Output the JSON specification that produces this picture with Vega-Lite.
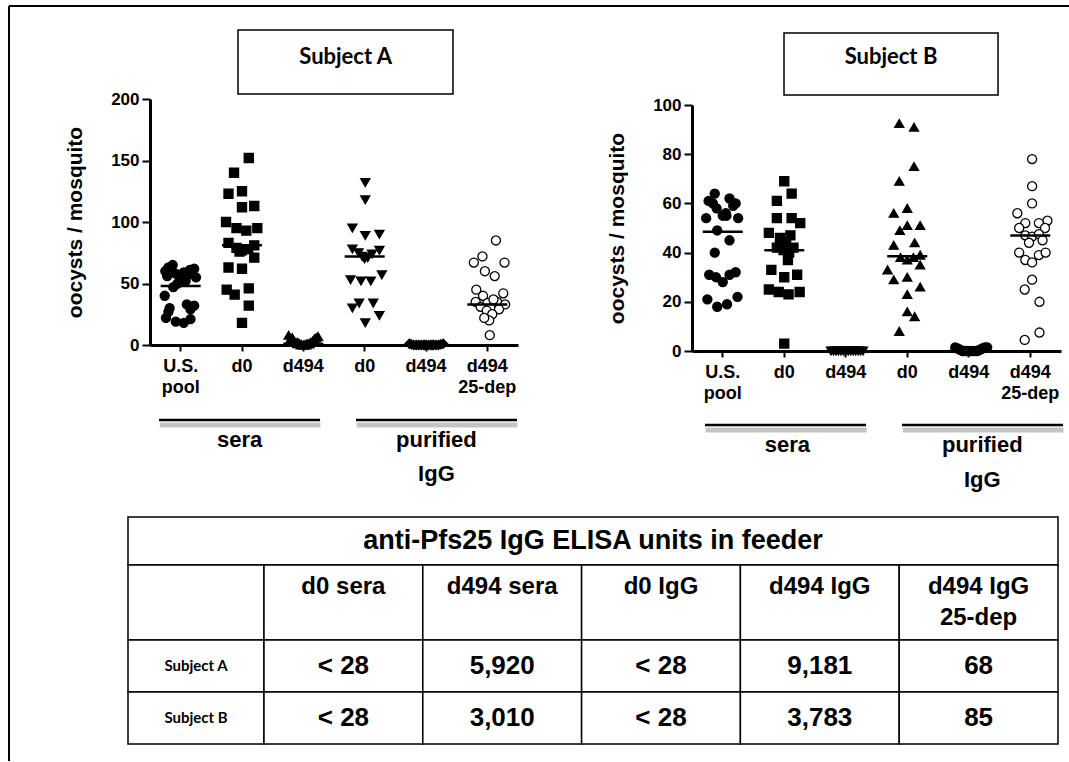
{
 "$schema": "https://vega.github.io/schema/vega-lite/v6.json",
 "background": "white",
 "padding": {"left": 7, "top": 5, "right": 0, "bottom": 0},
 "width": 930,
 "height": 252,
 "config": {
  "view": {"stroke": null},
  "font": "Liberation Sans",
  "axis": {"labelColor": "black", "titleColor": "black", "domainColor": "black", "tickColor": "black", "grid": false}
 },
 "datasets": {
  "A": [
   {"group":"U.S. pool","oocysts":65,"jitter":-0.13},{"group":"U.S. pool","oocysts":63,"jitter":-0.2},{"group":"U.S. pool","oocysts":61,"jitter":0.15},{"group":"U.S. pool","oocysts":62,"jitter":0.22},{"group":"U.S. pool","oocysts":60,"jitter":-0.25},{"group":"U.S. pool","oocysts":59,"jitter":0.05},{"group":"U.S. pool","oocysts":58,"jitter":-0.08},{"group":"U.S. pool","oocysts":57,"jitter":0.12},{"group":"U.S. pool","oocysts":56,"jitter":-0.22},{"group":"U.S. pool","oocysts":55,"jitter":0.25},{"group":"U.S. pool","oocysts":54,"jitter":0.0},{"group":"U.S. pool","oocysts":52,"jitter":0.08},{"group":"U.S. pool","oocysts":50,"jitter":-0.05},{"group":"U.S. pool","oocysts":47,"jitter":-0.12},{"group":"U.S. pool","oocysts":40,"jitter":-0.26},{"group":"U.S. pool","oocysts":33,"jitter":0.1},{"group":"U.S. pool","oocysts":32,"jitter":0.22},{"group":"U.S. pool","oocysts":30,"jitter":-0.18},{"group":"U.S. pool","oocysts":29,"jitter":0.16},{"group":"U.S. pool","oocysts":27,"jitter":-0.2},{"group":"U.S. pool","oocysts":22,"jitter":-0.24},{"group":"U.S. pool","oocysts":21,"jitter":0.16},{"group":"U.S. pool","oocysts":19,"jitter":-0.08},{"group":"U.S. pool","oocysts":18,"jitter":0.05},
   {"group":"sera d0","oocysts":152,"jitter":0.11},{"group":"sera d0","oocysts":140,"jitter":-0.13},{"group":"sera d0","oocysts":123,"jitter":-0.22},{"group":"sera d0","oocysts":125,"jitter":0.0},{"group":"sera d0","oocysts":112,"jitter":0.0},{"group":"sera d0","oocysts":113,"jitter":0.2},{"group":"sera d0","oocysts":100,"jitter":-0.26},{"group":"sera d0","oocysts":95,"jitter":-0.09},{"group":"sera d0","oocysts":93,"jitter":0.07},{"group":"sera d0","oocysts":95,"jitter":0.25},{"group":"sera d0","oocysts":83,"jitter":-0.22},{"group":"sera d0","oocysts":79,"jitter":-0.09},{"group":"sera d0","oocysts":77,"jitter":0.0},{"group":"sera d0","oocysts":78,"jitter":0.1},{"group":"sera d0","oocysts":81,"jitter":0.2},{"group":"sera d0","oocysts":76,"jitter":-0.04},{"group":"sera d0","oocysts":71,"jitter":0.2},{"group":"sera d0","oocysts":63,"jitter":-0.22},{"group":"sera d0","oocysts":62,"jitter":0.0},{"group":"sera d0","oocysts":45,"jitter":-0.25},{"group":"sera d0","oocysts":41,"jitter":-0.12},{"group":"sera d0","oocysts":46,"jitter":0.11},{"group":"sera d0","oocysts":32,"jitter":0.11},{"group":"sera d0","oocysts":18,"jitter":0.0},
   {"group":"sera d494","oocysts":8,"jitter":-0.24},{"group":"sera d494","oocysts":5,"jitter":-0.21},{"group":"sera d494","oocysts":6,"jitter":-0.18},{"group":"sera d494","oocysts":3,"jitter":-0.15},{"group":"sera d494","oocysts":2,"jitter":-0.12},{"group":"sera d494","oocysts":2,"jitter":-0.09},{"group":"sera d494","oocysts":1,"jitter":-0.06},{"group":"sera d494","oocysts":0.5,"jitter":-0.03},{"group":"sera d494","oocysts":0,"jitter":0.0},{"group":"sera d494","oocysts":0.5,"jitter":0.03},{"group":"sera d494","oocysts":1,"jitter":0.06},{"group":"sera d494","oocysts":1,"jitter":0.09},{"group":"sera d494","oocysts":2,"jitter":0.12},{"group":"sera d494","oocysts":3,"jitter":0.15},{"group":"sera d494","oocysts":5,"jitter":0.18},{"group":"sera d494","oocysts":6,"jitter":0.21},{"group":"sera d494","oocysts":7,"jitter":0.24},{"group":"sera d494","oocysts":0,"jitter":-0.04},{"group":"sera d494","oocysts":0,"jitter":0.05},{"group":"sera d494","oocysts":1,"jitter":-0.1},{"group":"sera d494","oocysts":1,"jitter":0.1},{"group":"sera d494","oocysts":0,"jitter":0.01},
   {"group":"IgG d0","oocysts":132,"jitter":0.01},{"group":"IgG d0","oocysts":118,"jitter":0.01},{"group":"IgG d0","oocysts":95,"jitter":-0.2},{"group":"IgG d0","oocysts":89,"jitter":0.01},{"group":"IgG d0","oocysts":90,"jitter":0.24},{"group":"IgG d0","oocysts":78,"jitter":-0.2},{"group":"IgG d0","oocysts":77,"jitter":0.24},{"group":"IgG d0","oocysts":75,"jitter":-0.1},{"group":"IgG d0","oocysts":74,"jitter":0.12},{"group":"IgG d0","oocysts":72,"jitter":-0.04},{"group":"IgG d0","oocysts":71,"jitter":0.05},{"group":"IgG d0","oocysts":70,"jitter":0.0},{"group":"IgG d0","oocysts":53,"jitter":-0.23},{"group":"IgG d0","oocysts":52,"jitter":-0.06},{"group":"IgG d0","oocysts":52,"jitter":0.1},{"group":"IgG d0","oocysts":57,"jitter":0.28},{"group":"IgG d0","oocysts":34,"jitter":-0.09},{"group":"IgG d0","oocysts":34,"jitter":0.14},{"group":"IgG d0","oocysts":30,"jitter":-0.2},{"group":"IgG d0","oocysts":24,"jitter":0.24},{"group":"IgG d0","oocysts":18,"jitter":0.01},
   {"group":"IgG d494","oocysts":1,"jitter":-0.27},{"group":"IgG d494","oocysts":0.5,"jitter":-0.24},{"group":"IgG d494","oocysts":0,"jitter":-0.2},{"group":"IgG d494","oocysts":0,"jitter":-0.16},{"group":"IgG d494","oocysts":0,"jitter":-0.12},{"group":"IgG d494","oocysts":0,"jitter":-0.08},{"group":"IgG d494","oocysts":0,"jitter":-0.04},{"group":"IgG d494","oocysts":0,"jitter":0.0},{"group":"IgG d494","oocysts":0,"jitter":0.04},{"group":"IgG d494","oocysts":0,"jitter":0.08},{"group":"IgG d494","oocysts":0,"jitter":0.12},{"group":"IgG d494","oocysts":0,"jitter":0.16},{"group":"IgG d494","oocysts":0,"jitter":0.2},{"group":"IgG d494","oocysts":0.5,"jitter":0.24},{"group":"IgG d494","oocysts":1,"jitter":0.28},{"group":"IgG d494","oocysts":0,"jitter":-0.02},{"group":"IgG d494","oocysts":0,"jitter":0.1},
   {"group":"IgG d494 25-dep","oocysts":85,"jitter":0.14},{"group":"IgG d494 25-dep","oocysts":72,"jitter":-0.08},{"group":"IgG d494 25-dep","oocysts":67,"jitter":-0.22},{"group":"IgG d494 25-dep","oocysts":67,"jitter":0.28},{"group":"IgG d494 25-dep","oocysts":60,"jitter":-0.04},{"group":"IgG d494 25-dep","oocysts":56,"jitter":0.12},{"group":"IgG d494 25-dep","oocysts":45,"jitter":-0.18},{"group":"IgG d494 25-dep","oocysts":42,"jitter":0.26},{"group":"IgG d494 25-dep","oocysts":40,"jitter":-0.07},{"group":"IgG d494 25-dep","oocysts":35,"jitter":-0.19},{"group":"IgG d494 25-dep","oocysts":34,"jitter":0.0},{"group":"IgG d494 25-dep","oocysts":35,"jitter":0.16},{"group":"IgG d494 25-dep","oocysts":33,"jitter":0.29},{"group":"IgG d494 25-dep","oocysts":31,"jitter":-0.11},{"group":"IgG d494 25-dep","oocysts":30,"jitter":0.05},{"group":"IgG d494 25-dep","oocysts":28,"jitter":-0.01},{"group":"IgG d494 25-dep","oocysts":29,"jitter":0.19},{"group":"IgG d494 25-dep","oocysts":25,"jitter":0.08},{"group":"IgG d494 25-dep","oocysts":20,"jitter":0.03},{"group":"IgG d494 25-dep","oocysts":22,"jitter":-0.05},{"group":"IgG d494 25-dep","oocysts":8,"jitter":0.04},{"group":"IgG d494 25-dep","oocysts":37,"jitter":0.1}
  ],
  "Amean": [
   {"group":"U.S. pool","mean":48},{"group":"sera d0","mean":81},{"group":"sera d494","mean":1},{"group":"IgG d0","mean":72},{"group":"IgG d494","mean":0},{"group":"IgG d494 25-dep","mean":33}
  ],
  "B": [
   {"group":"U.S. pool","oocysts":64,"jitter":-0.13},{"group":"U.S. pool","oocysts":61,"jitter":-0.23},{"group":"U.S. pool","oocysts":60,"jitter":-0.16},{"group":"U.S. pool","oocysts":62,"jitter":0.11},{"group":"U.S. pool","oocysts":60,"jitter":0.21},{"group":"U.S. pool","oocysts":59,"jitter":0.17},{"group":"U.S. pool","oocysts":58,"jitter":-0.1},{"group":"U.S. pool","oocysts":56,"jitter":0.05},{"group":"U.S. pool","oocysts":54,"jitter":-0.27},{"group":"U.S. pool","oocysts":55,"jitter":0.0},{"group":"U.S. pool","oocysts":55,"jitter":0.06},{"group":"U.S. pool","oocysts":54,"jitter":0.25},{"group":"U.S. pool","oocysts":49,"jitter":-0.09},{"group":"U.S. pool","oocysts":45,"jitter":0.11},{"group":"U.S. pool","oocysts":40,"jitter":-0.13},{"group":"U.S. pool","oocysts":31,"jitter":-0.22},{"group":"U.S. pool","oocysts":30,"jitter":-0.11},{"group":"U.S. pool","oocysts":28,"jitter":0.0},{"group":"U.S. pool","oocysts":31,"jitter":0.11},{"group":"U.S. pool","oocysts":32,"jitter":0.21},{"group":"U.S. pool","oocysts":21,"jitter":-0.25},{"group":"U.S. pool","oocysts":18,"jitter":-0.09},{"group":"U.S. pool","oocysts":19,"jitter":0.07},{"group":"U.S. pool","oocysts":22,"jitter":0.24},
   {"group":"sera d0","oocysts":69,"jitter":0.0},{"group":"sera d0","oocysts":64,"jitter":0.12},{"group":"sera d0","oocysts":61,"jitter":-0.12},{"group":"sera d0","oocysts":54,"jitter":-0.12},{"group":"sera d0","oocysts":54,"jitter":0.12},{"group":"sera d0","oocysts":52,"jitter":0.26},{"group":"sera d0","oocysts":48,"jitter":-0.25},{"group":"sera d0","oocysts":47,"jitter":0.1},{"group":"sera d0","oocysts":46,"jitter":-0.07},{"group":"sera d0","oocysts":42,"jitter":-0.12},{"group":"sera d0","oocysts":43,"jitter":0.03},{"group":"sera d0","oocysts":42,"jitter":0.15},{"group":"sera d0","oocysts":41,"jitter":-0.01},{"group":"sera d0","oocysts":40,"jitter":0.08},{"group":"sera d0","oocysts":37,"jitter":0.06},{"group":"sera d0","oocysts":33,"jitter":-0.21},{"group":"sera d0","oocysts":30,"jitter":0.0},{"group":"sera d0","oocysts":31,"jitter":0.21},{"group":"sera d0","oocysts":25,"jitter":-0.25},{"group":"sera d0","oocysts":24,"jitter":-0.09},{"group":"sera d0","oocysts":23,"jitter":0.07},{"group":"sera d0","oocysts":24,"jitter":0.25},{"group":"sera d0","oocysts":3,"jitter":0.0},{"group":"sera d0","oocysts":44,"jitter":-0.05},
   {"group":"sera d494","oocysts":0,"jitter":-0.24},{"group":"sera d494","oocysts":0,"jitter":-0.2},{"group":"sera d494","oocysts":0,"jitter":-0.16},{"group":"sera d494","oocysts":0,"jitter":-0.12},{"group":"sera d494","oocysts":0,"jitter":-0.08},{"group":"sera d494","oocysts":0,"jitter":-0.04},{"group":"sera d494","oocysts":0,"jitter":0.0},{"group":"sera d494","oocysts":0,"jitter":0.04},{"group":"sera d494","oocysts":0,"jitter":0.08},{"group":"sera d494","oocysts":0,"jitter":0.12},{"group":"sera d494","oocysts":0,"jitter":0.16},{"group":"sera d494","oocysts":0,"jitter":0.2},{"group":"sera d494","oocysts":0,"jitter":0.24},{"group":"sera d494","oocysts":0,"jitter":0.28},
   {"group":"IgG d0","oocysts":92.5,"jitter":-0.13},{"group":"IgG d0","oocysts":91,"jitter":0.11},{"group":"IgG d0","oocysts":75,"jitter":0.11},{"group":"IgG d0","oocysts":69,"jitter":-0.13},{"group":"IgG d0","oocysts":56,"jitter":-0.22},{"group":"IgG d0","oocysts":58,"jitter":0.0},{"group":"IgG d0","oocysts":49,"jitter":-0.12},{"group":"IgG d0","oocysts":51,"jitter":0.0},{"group":"IgG d0","oocysts":51,"jitter":0.21},{"group":"IgG d0","oocysts":43,"jitter":-0.22},{"group":"IgG d0","oocysts":44,"jitter":0.12},{"group":"IgG d0","oocysts":38,"jitter":-0.11},{"group":"IgG d0","oocysts":37,"jitter":0.0},{"group":"IgG d0","oocysts":38,"jitter":0.1},{"group":"IgG d0","oocysts":39,"jitter":0.21},{"group":"IgG d0","oocysts":33,"jitter":-0.32},{"group":"IgG d0","oocysts":35,"jitter":0.21},{"group":"IgG d0","oocysts":29,"jitter":-0.22},{"group":"IgG d0","oocysts":30,"jitter":0.0},{"group":"IgG d0","oocysts":26,"jitter":0.21},{"group":"IgG d0","oocysts":23,"jitter":0.0},{"group":"IgG d0","oocysts":16,"jitter":0.0},{"group":"IgG d0","oocysts":14,"jitter":0.12},{"group":"IgG d0","oocysts":8,"jitter":-0.13},
   {"group":"IgG d494","oocysts":1.5,"jitter":-0.22},{"group":"IgG d494","oocysts":1,"jitter":-0.18},{"group":"IgG d494","oocysts":0.5,"jitter":-0.14},{"group":"IgG d494","oocysts":0,"jitter":-0.1},{"group":"IgG d494","oocysts":0,"jitter":-0.06},{"group":"IgG d494","oocysts":0,"jitter":-0.02},{"group":"IgG d494","oocysts":0,"jitter":0.02},{"group":"IgG d494","oocysts":0,"jitter":0.06},{"group":"IgG d494","oocysts":0,"jitter":0.1},{"group":"IgG d494","oocysts":0,"jitter":0.14},{"group":"IgG d494","oocysts":0.5,"jitter":0.18},{"group":"IgG d494","oocysts":1,"jitter":0.22},{"group":"IgG d494","oocysts":1.5,"jitter":0.26},{"group":"IgG d494","oocysts":1.5,"jitter":0.3},
   {"group":"IgG d494 25-dep","oocysts":78,"jitter":0.03},{"group":"IgG d494 25-dep","oocysts":67,"jitter":0.03},{"group":"IgG d494 25-dep","oocysts":60,"jitter":0.03},{"group":"IgG d494 25-dep","oocysts":56,"jitter":-0.21},{"group":"IgG d494 25-dep","oocysts":52,"jitter":-0.08},{"group":"IgG d494 25-dep","oocysts":50,"jitter":-0.18},{"group":"IgG d494 25-dep","oocysts":53,"jitter":0.28},{"group":"IgG d494 25-dep","oocysts":52,"jitter":0.14},{"group":"IgG d494 25-dep","oocysts":50,"jitter":0.24},{"group":"IgG d494 25-dep","oocysts":47,"jitter":-0.08},{"group":"IgG d494 25-dep","oocysts":46.5,"jitter":0.03},{"group":"IgG d494 25-dep","oocysts":47.5,"jitter":0.14},{"group":"IgG d494 25-dep","oocysts":40,"jitter":-0.18},{"group":"IgG d494 25-dep","oocysts":37,"jitter":-0.08},{"group":"IgG d494 25-dep","oocysts":36,"jitter":0.03},{"group":"IgG d494 25-dep","oocysts":39,"jitter":0.14},{"group":"IgG d494 25-dep","oocysts":40,"jitter":0.25},{"group":"IgG d494 25-dep","oocysts":29,"jitter":0.03},{"group":"IgG d494 25-dep","oocysts":25,"jitter":-0.09},{"group":"IgG d494 25-dep","oocysts":20,"jitter":0.15},{"group":"IgG d494 25-dep","oocysts":4.5,"jitter":-0.09},{"group":"IgG d494 25-dep","oocysts":7.5,"jitter":0.15},{"group":"IgG d494 25-dep","oocysts":45,"jitter":0.2},{"group":"IgG d494 25-dep","oocysts":44,"jitter":-0.02}
  ],
  "Bmean": [
   {"group":"U.S. pool","mean":48.5},{"group":"sera d0","mean":41},{"group":"sera d494","mean":0},{"group":"IgG d0","mean":38.5},{"group":"IgG d494","mean":0},{"group":"IgG d494 25-dep","mean":47}
  ],
  "table": [
   {"row":"title","col":"c0","text":"anti-Pfs25 IgG ELISA units in feeder"},
   {"row":"head","col":"c0","text":""},{"row":"head","col":"c1","text":"d0 sera"},{"row":"head","col":"c2","text":"d494 sera"},{"row":"head","col":"c3","text":"d0 IgG"},{"row":"head","col":"c4","text":"d494 IgG"},{"row":"head","col":"c5","text":"d494 IgG\n25-dep"},
   {"row":"A","col":"c0","text":"Subject A"},{"row":"A","col":"c1","text":"< 28"},{"row":"A","col":"c2","text":"5,920"},{"row":"A","col":"c3","text":"< 28"},{"row":"A","col":"c4","text":"9,181"},{"row":"A","col":"c5","text":"68"},
   {"row":"B","col":"c0","text":"Subject B"},{"row":"B","col":"c1","text":"< 28"},{"row":"B","col":"c2","text":"3,010"},{"row":"B","col":"c3","text":"< 28"},{"row":"B","col":"c4","text":"3,783"},{"row":"B","col":"c5","text":"85"}
  ]
 },
 "layer": [
  {"data": {"name": "A"},
   "layer": [
    {"mark": {"type": "point", "filled": true, "stroke": "black", "strokeWidth": 1.3, "size": 82, "opacity": 1},
     "encoding": {
      "x": {"field": "group", "type": "nominal", "sort": null,
            "scale": {"domain": ["U.S. pool","sera d0","sera d494","IgG d0","IgG d494","IgG d494 25-dep"], "range": [22, 390], "paddingInner": 0, "paddingOuter": 0},
            "axis": {"orient": "bottom", "title": null, "offset": -6, "labelExpr": "datum.value == 'U.S. pool' ? ['U.S.', 'pool'] : datum.value == 'IgG d494 25-dep' ? ['d494', '25-dep'] : indexof(datum.value, 'd494') >= 0 ? 'd494' : 'd0'",
                     "labelFontSize": 18, "labelFontWeight": "bold", "labelLineHeight": 21, "labelPadding": 6, "labelAngle": 0, "labelOverlap": false, "labelLimit": 0,
                     "tickSize": 6, "tickWidth": 2, "domainWidth": 3}},
      "xOffset": {"field": "jitter", "type": "quantitative", "scale": {"domain": [-0.5, 0.5]}},
      "y": {"field": "oocysts", "type": "quantitative", "title": "oocysts / mosquito",
            "scale": {"domain": [0, 200], "range": [246, 0], "nice": false, "zero": false},
            "axis": {"orient": "left", "values": [0, 50, 100, 150, 200], "offset": -22, "labelFontSize": 17, "labelFontWeight": "bold", "labelPadding": 3, "tickSize": 8, "tickWidth": 2, "domainWidth": 3,
                     "titleFontSize": 21, "titleFontWeight": "bold", "titlePadding": 25}},
      "shape": {"field": "group", "type": "nominal", "legend": null,
                "scale": {"domain": ["U.S. pool","sera d0","sera d494","IgG d0","IgG d494","IgG d494 25-dep"], "range": ["circle","square","triangle-up","triangle-down","diamond","circle"]}},
      "fill": {"field": "group", "type": "nominal", "legend": null,
               "scale": {"domain": ["U.S. pool","sera d0","sera d494","IgG d0","IgG d494","IgG d494 25-dep"], "range": ["black","black","black","black","black","white"]}}
     }},
    {"data": {"name": "Amean"},
     "mark": {"type": "tick", "color": "black", "thickness": 2.5, "size": 40, "opacity": 1},
     "encoding": {
      "x": {"field": "group", "type": "nominal", "sort": null,
            "scale": {"domain": ["U.S. pool","sera d0","sera d494","IgG d0","IgG d494","IgG d494 25-dep"], "range": [22, 390], "paddingInner": 0, "paddingOuter": 0}},
      "y": {"field": "mean", "type": "quantitative", "title": "oocysts / mosquito",
            "scale": {"domain": [0, 200], "range": [246, 0], "nice": false, "zero": false}}
     }}
   ]},
  {"data": {"name": "B"},
   "layer": [
    {"mark": {"type": "point", "filled": true, "stroke": "black", "strokeWidth": 1.3, "size": 82, "opacity": 1},
     "encoding": {
      "x": {"field": "group", "type": "nominal", "sort": null,
            "scale": {"domain": ["U.S. pool","sera d0","sera d494","IgG d0","IgG d494","IgG d494 25-dep"], "range": [564, 933], "paddingInner": 0, "paddingOuter": 0},
            "axis": {"orient": "bottom", "offset": 0, "title": null, "labelExpr": "datum.value == 'U.S. pool' ? ['U.S.', 'pool'] : datum.value == 'IgG d494 25-dep' ? ['d494', '25-dep'] : indexof(datum.value, 'd494') >= 0 ? 'd494' : 'd0'",
                     "labelFontSize": 18, "labelFontWeight": "bold", "labelLineHeight": 21, "labelPadding": 6, "labelAngle": 0, "labelOverlap": false, "labelLimit": 0,
                     "tickSize": 6, "tickWidth": 2, "domainWidth": 3}},
      "xOffset": {"field": "jitter", "type": "quantitative", "scale": {"domain": [-0.5, 0.5]}},
      "y": {"field": "oocysts", "type": "quantitative", "title": "oocysts / mosquito",
            "scale": {"domain": [0, 100], "range": [252, 6], "nice": false, "zero": false},
            "axis": {"orient": "left", "values": [0, 20, 40, 60, 80, 100], "offset": -564, "labelFontSize": 17, "labelFontWeight": "bold", "labelPadding": 3, "tickSize": 8, "tickWidth": 2, "domainWidth": 3,
                     "titleFontSize": 21, "titleFontWeight": "bold", "titlePadding": 25}},
      "shape": {"field": "group", "type": "nominal", "legend": null,
                "scale": {"domain": ["U.S. pool","sera d0","sera d494","IgG d0","IgG d494","IgG d494 25-dep"], "range": ["circle","square","triangle-down","triangle-up","circle","circle"]}},
      "fill": {"field": "group", "type": "nominal", "legend": null,
               "scale": {"domain": ["U.S. pool","sera d0","sera d494","IgG d0","IgG d494","IgG d494 25-dep"], "range": ["black","black","black","black","black","white"]}}
     }},
    {"data": {"name": "Bmean"},
     "mark": {"type": "tick", "color": "black", "thickness": 2.5, "size": 40, "opacity": 1},
     "encoding": {
      "x": {"field": "group", "type": "nominal", "sort": null,
            "scale": {"domain": ["U.S. pool","sera d0","sera d494","IgG d0","IgG d494","IgG d494 25-dep"], "range": [564, 933], "paddingInner": 0, "paddingOuter": 0}},
      "y": {"field": "mean", "type": "quantitative", "title": "oocysts / mosquito",
            "scale": {"domain": [0, 100], "range": [252, 6], "nice": false, "zero": false}}
     }}
   ]},
  {"data": {"values": [{}]},
   "layer": [
    {"mark": {"type": "rule", "color": "black", "strokeWidth": 2},
     "encoding": {"x": {"datum": -2.299, "type": "quantitative", "scale": {"domain": [0, 6], "range": [22, 390], "nice": false, "zero": false}, "axis": null},
                  "x2": {"datum": 14.984},
                  "y": {"datum": 275.6, "type": "quantitative", "scale": {"domain": [0, 200], "range": [246, 0], "nice": false, "zero": false}, "axis": null}}},
    {"mark": {"type": "rule", "color": "black", "strokeWidth": 2},
     "encoding": {"x": {"datum": -2.299, "type": "quantitative", "axis": null},
                  "y": {"datum": 275.6, "type": "quantitative", "axis": null},
                  "y2": {"datum": -338.2}}},
    {"mark": {"type": "rect", "fill": "white", "stroke": "black", "strokeWidth": 1.5},
     "encoding": {"x": {"datum": 1.435, "type": "quantitative", "axis": null}, "x2": {"datum": 4.94},
                  "y": {"datum": 256.1, "type": "quantitative", "axis": null}, "y2": {"datum": 204.1}}},
    {"mark": {"type": "text", "text": "Subject A", "font": "Lato", "fontWeight": "bold", "fontSize": 22, "color": "black", "align": "center", "baseline": "middle"},
     "encoding": {"x": {"datum": 3.19, "type": "quantitative", "axis": null},
                  "y": {"datum": 234.1, "type": "quantitative", "axis": null}}},
    {"mark": {"type": "rule", "color": "#b5b5b5", "strokeWidth": 5, "opacity": 0.8},
     "encoding": {"x": {"datum": 0.16, "type": "quantitative", "axis": null}, "x2": {"datum": 2.78},
                  "y": {"datum": -65.0, "type": "quantitative", "axis": null}}},
    {"mark": {"type": "rule", "color": "#b5b5b5", "strokeWidth": 5, "opacity": 0.8},
     "encoding": {"x": {"datum": 3.37, "type": "quantitative", "axis": null}, "x2": {"datum": 5.99},
                  "y": {"datum": -65.0, "type": "quantitative", "axis": null}}},
    {"mark": {"type": "rule", "color": "black", "strokeWidth": 2.5},
     "encoding": {"x": {"datum": 0.147, "type": "quantitative", "axis": null}, "x2": {"datum": 2.772},
                  "y": {"datum": -61.0, "type": "quantitative", "axis": null}}},
    {"mark": {"type": "rule", "color": "black", "strokeWidth": 2.5},
     "encoding": {"x": {"datum": 3.359, "type": "quantitative", "axis": null}, "x2": {"datum": 5.984},
                  "y": {"datum": -61.0, "type": "quantitative", "axis": null}}},
    {"mark": {"type": "text", "text": "sera", "fontWeight": "bold", "fontSize": 22, "color": "black", "align": "center", "baseline": "middle"},
     "encoding": {"x": {"datum": 1.46, "type": "quantitative", "axis": null},
                  "y": {"datum": -77.2, "type": "quantitative", "axis": null}}},
    {"mark": {"type": "text", "text": "purified", "fontWeight": "bold", "fontSize": 22, "color": "black", "align": "center", "baseline": "middle"},
     "encoding": {"x": {"datum": 4.67, "type": "quantitative", "axis": null},
                  "y": {"datum": -77.2, "type": "quantitative", "axis": null}}},
    {"mark": {"type": "text", "text": "IgG", "fontWeight": "bold", "fontSize": 22, "color": "black", "align": "center", "baseline": "middle"},
     "encoding": {"x": {"datum": 4.67, "type": "quantitative", "axis": null},
                  "y": {"datum": -104.9, "type": "quantitative", "axis": null}}}
   ]},
  {"data": {"values": [{}]},
   "layer": [
    {"mark": {"type": "rect", "fill": "white", "stroke": "black", "strokeWidth": 1.5},
     "encoding": {"x": {"datum": 1.496, "type": "quantitative", "scale": {"domain": [0, 6], "range": [564, 933], "nice": false, "zero": false}, "axis": null}, "x2": {"datum": 4.976},
                  "y": {"datum": 129.3, "type": "quantitative", "scale": {"domain": [0, 100], "range": [252, 6], "nice": false, "zero": false}, "axis": null}, "y2": {"datum": 104.1}}},
    {"mark": {"type": "text", "text": "Subject B", "font": "Lato", "fontWeight": "bold", "fontSize": 22, "color": "black", "align": "center", "baseline": "middle"},
     "encoding": {"x": {"datum": 3.236, "type": "quantitative", "axis": null},
                  "y": {"datum": 119.5, "type": "quantitative", "axis": null}}},
    {"mark": {"type": "rule", "color": "#b5b5b5", "strokeWidth": 5, "opacity": 0.8},
     "encoding": {"x": {"datum": 0.22, "type": "quantitative", "axis": null}, "x2": {"datum": 2.84},
                  "y": {"datum": -32.1, "type": "quantitative", "axis": null}}},
    {"mark": {"type": "rule", "color": "#b5b5b5", "strokeWidth": 5, "opacity": 0.8},
     "encoding": {"x": {"datum": 3.425, "type": "quantitative", "axis": null}, "x2": {"datum": 6.04},
                  "y": {"datum": -32.1, "type": "quantitative", "axis": null}}},
    {"mark": {"type": "rule", "color": "black", "strokeWidth": 2.5},
     "encoding": {"x": {"datum": 0.211, "type": "quantitative", "axis": null}, "x2": {"datum": 2.829},
                  "y": {"datum": -30.1, "type": "quantitative", "axis": null}}},
    {"mark": {"type": "rule", "color": "black", "strokeWidth": 2.5},
     "encoding": {"x": {"datum": 3.415, "type": "quantitative", "axis": null}, "x2": {"datum": 6.033},
                  "y": {"datum": -30.1, "type": "quantitative", "axis": null}}},
    {"mark": {"type": "text", "text": "sera", "fontWeight": "bold", "fontSize": 22, "color": "black", "align": "center", "baseline": "middle"},
     "encoding": {"x": {"datum": 1.55, "type": "quantitative", "axis": null},
                  "y": {"datum": -38.2, "type": "quantitative", "axis": null}}},
    {"mark": {"type": "text", "text": "purified", "fontWeight": "bold", "fontSize": 22, "color": "black", "align": "center", "baseline": "middle"},
     "encoding": {"x": {"datum": 4.72, "type": "quantitative", "axis": null},
                  "y": {"datum": -38.2, "type": "quantitative", "axis": null}}},
    {"mark": {"type": "text", "text": "IgG", "fontWeight": "bold", "fontSize": 22, "color": "black", "align": "center", "baseline": "middle"},
     "encoding": {"x": {"datum": 4.72, "type": "quantitative", "axis": null},
                  "y": {"datum": -52.4, "type": "quantitative", "axis": null}}}
   ]},
  {"data": {"name": "table"},
   "transform": [{"filter": "datum.row == 'title'"}],
   "layer": [
    {"mark": {"type": "rect", "fill": "white", "stroke": "black", "strokeWidth": 1.5},
     "encoding": {"y": {"field": "row", "type": "nominal", "scale": {"domain": ["title"], "range": [418, 466], "paddingInner": 0, "paddingOuter": 0}, "axis": null}}},
    {"mark": {"type": "text", "fontWeight": "bold", "fontSize": 27, "color": "black", "align": "center", "baseline": "middle"},
     "encoding": {"y": {"field": "row", "type": "nominal", "scale": {"domain": ["title"], "range": [418, 466], "paddingInner": 0, "paddingOuter": 0}, "axis": null},
                  "text": {"field": "text"}}}
   ]},
  {"data": {"name": "table"},
   "transform": [{"filter": "datum.row == 'head'"}],
   "layer": [
    {"transform": [{"filter": "datum.col == 'c0'"}],
     "layer": [
      {"mark": {"type": "rect", "fill": "white", "stroke": "black", "strokeWidth": 1.5},
       "encoding": {"x": {"field": "col", "type": "nominal", "scale": {"domain": ["c0"], "range": [0, 136], "paddingInner": 0, "paddingOuter": 0}, "axis": null},
                    "y": {"field": "row", "type": "nominal", "scale": {"domain": ["head"], "range": [466, 541], "paddingInner": 0, "paddingOuter": 0}, "axis": null}}}
     ]},
    {"transform": [{"filter": "datum.col != 'c0'"}],
     "layer": [
      {"mark": {"type": "rect", "fill": "white", "stroke": "black", "strokeWidth": 1.5},
       "encoding": {"x": {"field": "col", "type": "nominal", "scale": {"domain": ["c1","c2","c3","c4","c5"], "range": [136, 930], "paddingInner": 0, "paddingOuter": 0}, "axis": null},
                    "y": {"field": "row", "type": "nominal", "scale": {"domain": ["head"], "range": [466, 541], "paddingInner": 0, "paddingOuter": 0}, "axis": null}}},
      {"mark": {"type": "text", "fontWeight": "bold", "fontSize": 24, "lineBreak": "\n", "lineHeight": 31, "color": "black", "align": "center", "baseline": "top", "dy": 10},
       "encoding": {"x": {"field": "col", "type": "nominal", "scale": {"domain": ["c1","c2","c3","c4","c5"], "range": [136, 930], "paddingInner": 0, "paddingOuter": 0}, "axis": null},
                    "y": {"field": "row", "type": "nominal", "bandPosition": 0, "scale": {"domain": ["head"], "range": [466, 541], "paddingInner": 0, "paddingOuter": 0}, "axis": null},
                    "text": {"field": "text"}}}
     ]}
   ],
   "resolve": {"scale": {"x": "independent"}}},
  {"data": {"name": "table"},
   "transform": [{"filter": "datum.row == 'A' || datum.row == 'B'"}],
   "layer": [
    {"transform": [{"filter": "datum.col == 'c0'"}],
     "layer": [
      {"mark": {"type": "rect", "fill": "white", "stroke": "black", "strokeWidth": 1.5},
       "encoding": {"x": {"field": "col", "type": "nominal", "scale": {"domain": ["c0"], "range": [0, 136], "paddingInner": 0, "paddingOuter": 0}, "axis": null},
                    "y": {"field": "row", "type": "nominal", "scale": {"domain": ["A", "B"], "range": [541, 645], "paddingInner": 0, "paddingOuter": 0}, "axis": null}}},
      {"mark": {"type": "text", "font": "Lato", "fontWeight": "bold", "fontSize": 15, "color": "black", "align": "center", "baseline": "middle"},
       "encoding": {"x": {"field": "col", "type": "nominal", "scale": {"domain": ["c0"], "range": [0, 136], "paddingInner": 0, "paddingOuter": 0}, "axis": null},
                    "y": {"field": "row", "type": "nominal", "scale": {"domain": ["A", "B"], "range": [541, 645], "paddingInner": 0, "paddingOuter": 0}, "axis": null},
                    "text": {"field": "text"}}}
     ]},
    {"transform": [{"filter": "datum.col != 'c0'"}],
     "layer": [
      {"mark": {"type": "rect", "fill": "white", "stroke": "black", "strokeWidth": 1.5},
       "encoding": {"x": {"field": "col", "type": "nominal", "scale": {"domain": ["c1","c2","c3","c4","c5"], "range": [136, 930], "paddingInner": 0, "paddingOuter": 0}, "axis": null},
                    "y": {"field": "row", "type": "nominal", "scale": {"domain": ["A", "B"], "range": [541, 645], "paddingInner": 0, "paddingOuter": 0}, "axis": null}}},
      {"mark": {"type": "text", "fontWeight": "bold", "fontSize": 26, "color": "black", "align": "center", "baseline": "middle"},
       "encoding": {"x": {"field": "col", "type": "nominal", "scale": {"domain": ["c1","c2","c3","c4","c5"], "range": [136, 930], "paddingInner": 0, "paddingOuter": 0}, "axis": null},
                    "y": {"field": "row", "type": "nominal", "scale": {"domain": ["A", "B"], "range": [541, 645], "paddingInner": 0, "paddingOuter": 0}, "axis": null},
                    "text": {"field": "text"}}}
     ]}
   ],
   "resolve": {"scale": {"x": "independent"}}}
 ],
 "resolve": {
  "scale": {"x": "independent", "y": "independent", "xOffset": "independent", "shape": "independent", "fill": "independent"},
  "axis": {"x": "independent", "y": "independent"}
 }
}
